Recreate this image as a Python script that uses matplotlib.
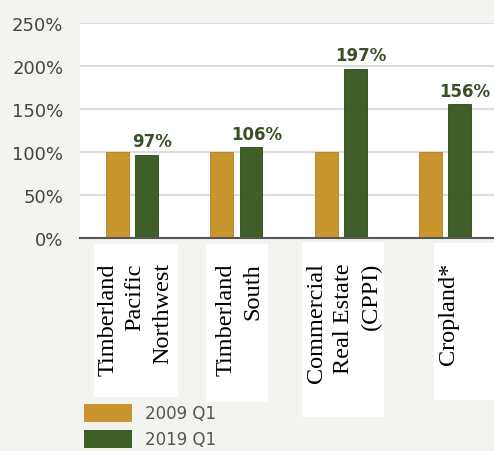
import matplotlib.pyplot as plt
from matplotlib.patches import Rectangle, Patch
import numpy as np

# values (index, 2009 Q1 = 100%)
categories = ['Timberland\nPacific\nNorthwest', 'Timberland\nSouth',
              'Commercial\nReal Estate\n(CPPI)', 'Cropland*']
base_2009 = [100, 100, 100, 100]
value_2019 = [97, 106, 197, 156]
y_ticks = [0, 50, 100, 150, 200, 250]
series_names = ['2009 Q1', '2019 Q1']

gold = '#c9952e'
green = '#3e5f27'
bg = '#f3f3ef'

W, H = 494, 452
fig = plt.figure(figsize=(W / 100, H / 100), dpi=100, facecolor=bg)
ax = fig.add_axes([80 / W, 1 - 239 / H, 414 / W, 215 / H])
ax.set_facecolor('white')

x = np.arange(len(categories))
bw = 0.22
off = 0.14
ax.bar(x - off, base_2009, bw, color=gold, edgecolor='#b07f22', linewidth=0.6, zorder=3)
ax.bar(x + off, value_2019, bw, color=green, edgecolor='#2c4519', linewidth=0.6, zorder=3)

for xi, v in zip(x, value_2019):
    ax.annotate(f'{v}%', (xi + off, v), xytext=(4, 3), textcoords='offset points',
                ha='center', va='bottom', fontsize=12, fontweight='bold',
                color='#3b4f26', zorder=4)

ax.set_xlim(-0.5, 3.47)
ax.set_ylim(0, 250)
ax.set_yticks(y_ticks)
ax.set_yticklabels([f'{t}%' for t in y_ticks], fontsize=13, color='#444444')
ax.tick_params(axis='y', length=0, pad=12)
ax.set_xticks([])
ax.grid(axis='y', color='#dcdcdc', linewidth=1.5, zorder=0)
for s in ['top', 'right', 'left']:
    ax.spines[s].set_visible(False)
ax.spines['bottom'].set_color('#555555')
ax.spines['bottom'].set_linewidth(1.5)
ax.spines['bottom'].set_zorder(5)

# white label boxes behind the category names (pixel extents)
boxes = [(94, 178, 245, 398), (206, 268, 245, 403), (302, 384, 243, 418), (434, 494, 244, 401)]
for x0, x1, y0, y1 in boxes:
    fig.patches.append(Rectangle((x0 / W, 1 - y1 / H), (x1 - x0) / W, (y1 - y0) / H,
                                 transform=fig.transFigure, facecolor='white',
                                 edgecolor='none', zorder=-1))

trans = ax.get_xaxis_transform()
for xi, lab in zip(x, categories):
    ax.text(xi + 0.03, -0.112, lab, transform=trans, rotation=90, ha='center', va='top',
            multialignment='right', fontsize=17.5, family='Liberation Serif',
            linespacing=1.38, color='black', clip_on=False, zorder=6)

handles = [Patch(facecolor=gold, edgecolor='none'), Patch(facecolor=green, edgecolor='none')]
fig.legend(handles, series_names, loc='upper left', bbox_to_anchor=(84 / W, 1 - 405 / H),
           frameon=False, fontsize=12, labelcolor='#555555', handlelength=2.9,
           handleheight=1.25, labelspacing=0.45, handletextpad=0.75, borderpad=0,
           borderaxespad=0)

fig.savefig('out.png', dpi=100, facecolor=bg)
